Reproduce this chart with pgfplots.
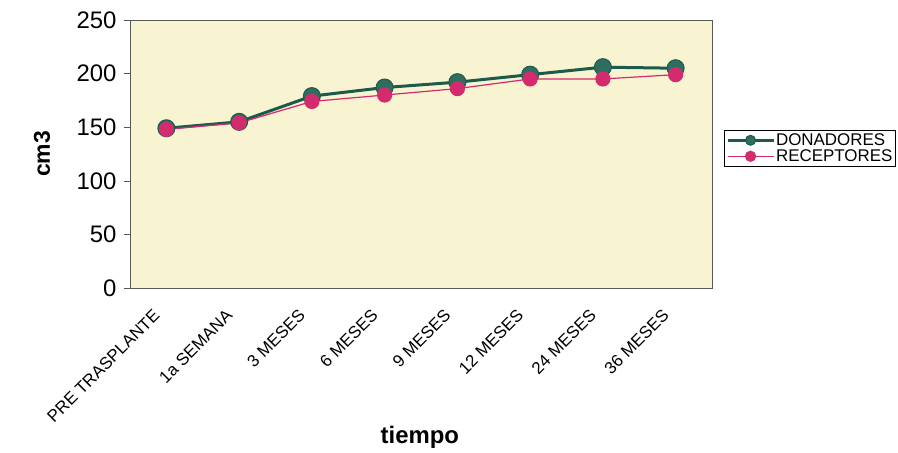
\documentclass[border=0pt]{standalone}
\usepackage{pgfplots}
\pgfplotsset{compat=1.18}
\usepackage{fontspec}
\setmainfont{Liberation Sans}
\definecolor{bgc}{HTML}{F8F4D2}
\definecolor{don}{HTML}{1C5A4C}
\definecolor{donm}{HTML}{2F6E5E}
\definecolor{rec}{HTML}{D42A6E}
\begin{document}
\begin{tikzpicture}[x=1bp,y=1bp]
\useasboundingbox (0,0) rectangle (898,453);
\begin{axis}[
  at={(130bp,165bp)}, anchor=south west,
  scale only axis, width=582bp, height=268bp,
  xmin=-0.5, xmax=7.5, ymin=0, ymax=250,
  ytick={0,50,...,250},
  xtick={0,...,7},
  xticklabels={PRE TRASPLANTE,1a SEMANA,3 MESES,6 MESES,9 MESES,12 MESES,24 MESES,36 MESES},
  x tick label style={font=\fontsize{17}{17}\selectfont, rotate=45, anchor=north east, inner sep=0pt, xshift=-20bp, yshift=0bp},
  y tick label style={font=\fontsize{24}{24}\selectfont, xshift=-4bp},
  /pgf/number format/assume math mode=true,
  major x tick style={draw=none},
  extra x ticks={-0.5,0.5,...,7.5},
  extra x tick labels={},
  extra x tick style={major tick length=5bp, tick style={gray!70!black}, tick align=outside},
  tick align=outside,
  major tick length=6bp,
  ytick style={gray!70!black},
  tick pos=left,
  axis line style={gray!70!black, line width=0.8bp},
  axis background/.style={fill=bgc},
  ylabel={\textbf{cm3}}, ylabel style={font=\fontsize{23}{23}\selectfont, at={(rel axis cs:-0.151,0.5)}, anchor=center},
  xlabel={\textbf{tiempo}}, xlabel style={font=\fontsize{24}{24}\selectfont, at={(rel axis cs:0.498,-0.556)}, anchor=center},
  legend style={at={(1.02,0.59)}, anchor=north west, draw=black, line width=0.8bp, fill=white,
    font=\fontsize{17}{17}\selectfont, inner sep=2bp, row sep=0bp,
    nodes={inner sep=1bp, text height=12bp, text depth=2bp},
    legend cell align=left},
  legend image code/.code={
    \draw[#1,mark=none] (0bp,0bp) -- (46bp,0bp);
    \draw[#1,mark size=5bp] plot coordinates {(23bp,0bp)};
  },
]
\addplot[don, line width=3bp, mark=*, mark size=8.5bp, mark options={fill=donm, draw=don, line width=1bp}]
 coordinates {(0,149) (1,155) (2,179) (3,187) (4,192) (5,199) (6,206) (7,205)};
\addlegendentry{DONADORES}
\addplot[rec, line width=1.2bp, mark=*, mark size=7bp, mark options={fill=rec, draw=rec}]
 coordinates {(0,148) (1,154) (2,174) (3,180) (4,186) (5,195) (6,195) (7,199)};
\addlegendentry{RECEPTORES}
\end{axis}
\end{tikzpicture}
\end{document}
